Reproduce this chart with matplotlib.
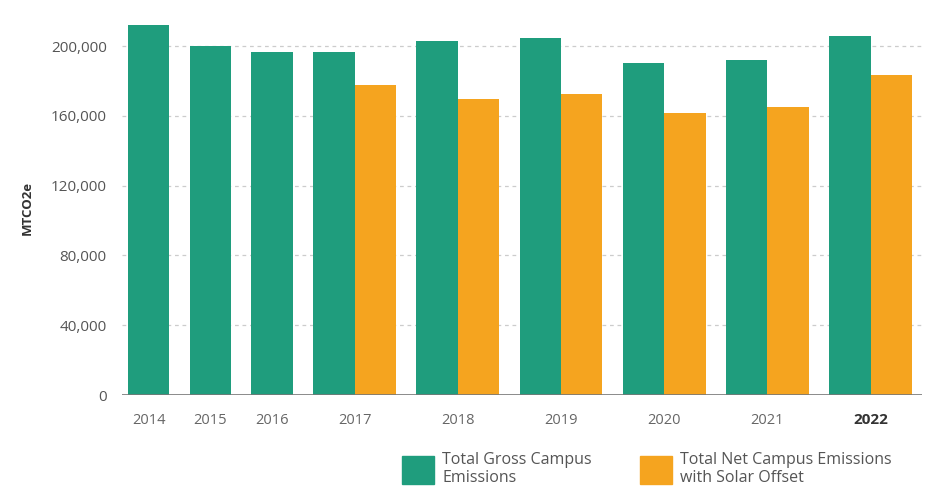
import matplotlib.pyplot as plt
from matplotlib.patches import Patch

years = ['2014', '2015', '2016', '2017', '2018', '2019', '2020', '2021', '2022']
gross = [212000, 200000, 196500, 196500, 202800, 204500, 190200, 192000, 205700]
net = [None, None, None, 177600, 169600, 172400, 161600, 165000, 183300]

green = '#1f9d7d'
orange = '#f5a41f'

plt.rcParams['font.family'] = ['Open Sans', 'DejaVu Sans']

fig = plt.figure(figsize=(9.26, 4.98), dpi=100)
ax = fig.add_axes([122 / 926, 1 - 395 / 498, 800 / 926, 375 / 498])

# bar layout: groups with one or two bars, equal gap between groups
w = 41.5
gap = 20.3
x = 0
centers = []
for g, n in zip(gross, net):
    ax.bar(x, g, width=w, align='edge', color=green, zorder=2)
    if n is not None:
        ax.bar(x + w, n, width=w, align='edge', color=orange, zorder=2)
        centers.append(x + w)
        x += 2 * w + gap
    else:
        centers.append(x + w / 2)
        x += w + gap

ax.set_xlim(-6, x - gap + 10)
ax.set_ylim(0, 215000)

ticks = [0, 40000, 80000, 120000, 160000, 200000]
ax.set_yticks(ticks)
ax.set_yticklabels([f'{t:,}' for t in ticks], fontsize=11, color='#555555')
ax.set_xticks(centers)
ax.set_xticklabels(years, fontsize=10.5, color='#666666')
lbl = ax.get_xticklabels()[-1]
lbl.set_fontweight('bold')
lbl.set_color('#333333')
lbl.set_fontsize(11)
ax.tick_params(axis='both', length=0)
ax.tick_params(axis='y', pad=11)
ax.tick_params(axis='x', pad=13)

for t in ticks[1:]:
    ax.axhline(t, color='#cccccc', lw=0.9, ls=(0, (3, 3)), zorder=1)
ax.axhline(0, color='#777777', lw=1.2, zorder=3)
for s in ax.spines.values():
    s.set_visible(False)

ax.set_ylabel('MTCO2e', fontsize=9.5, fontweight='bold', color='#333333')
ax.yaxis.set_label_coords(-88 / 800, 0.5)

handles = [Patch(color=green), Patch(color=orange)]
fig.legend(handles, ['Total Gross Campus\nEmissions', 'Total Net Campus Emissions\nwith Solar Offset'],
           loc='lower left', bbox_to_anchor=(388 / 926, -0.005), ncol=2, frameon=False,
           fontsize=11.5, handlelength=2.0, handleheight=2.3, handletextpad=0.5,
           columnspacing=3.0, labelcolor='#555555', labelspacing=0.2)

fig.savefig('out.png', dpi=100)
